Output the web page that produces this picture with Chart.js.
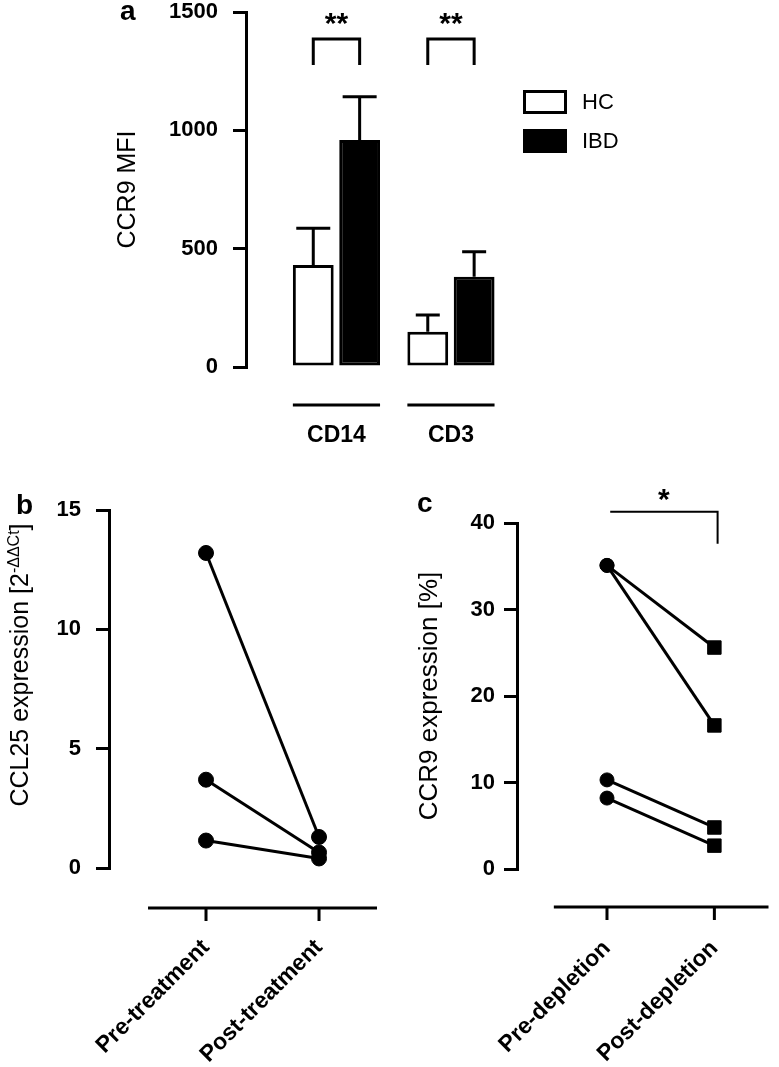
<!DOCTYPE html>
<html>
<head>
<meta charset="utf-8">
<script src="https://cdn.jsdelivr.net/npm/chart.js@4.4.1/dist/chart.umd.min.js"></script>
<style>
  html, body { margin:0; padding:0; background:#fff; }
  body { width:779px; height:1067px; position:relative; overflow:hidden;
         font-family:"Liberation Sans", Arial, Helvetica, sans-serif; color:#000; }
  canvas { position:absolute; }
  #cA { left:0; top:0; }
  #cB { left:0; top:480px; }
  #cC { left:390px; top:480px; }
  .tag { position:absolute; font-weight:bold; font-size:28px; line-height:1; }
  .legend { position:absolute; left:523px; top:90px; font-size:22px; }
  .legend .row { display:flex; align-items:center; height:24px; margin-bottom:15px; }
  .legend .box { width:44px; height:24px; box-sizing:border-box; border:3px solid #000; margin-right:15px; }
  .ytitle { position:absolute; font-size:25px; white-space:nowrap; line-height:1.2;
            transform:translate(-50%,-50%) rotate(-90deg); }
  .ytitle sup { font-size:16px; }
</style>
</head>
<body>
<canvas id="cA" width="779" height="470"></canvas>
<canvas id="cB" width="390" height="587"></canvas>
<canvas id="cC" width="389" height="587"></canvas>

<div class="tag" style="left:120px;top:-3px">a</div>
<div class="tag" style="left:16px;top:491px">b</div>
<div class="tag" style="left:417px;top:489px">c</div>

<div class="legend">
  <div class="row"><div class="box" style="background:#fff"></div>HC</div>
  <div class="row"><div class="box" style="background:#000"></div>IBD</div>
</div>

<div class="ytitle" style="left:19px;top:665px">CCL25 expression [2<sup>-ΔΔCt</sup>]</div>

<script>
// ---- panel a : CCR9 MFI ----
const groupLabels = ['CD14', 'CD3'];
const hcMean  = [431, 149];
const hcSem   = [155, 71];
const ibdMean = [959, 381];
const ibdSem  = [183, 106];
const sigA    = ['**', '**'];

// ---- panel b : CCL25 ----
const timeLabelsB = ['Pre-treatment', 'Post-treatment'];
const ccl25Pre  = [13.2, 3.7, 1.15];
const ccl25Post = [1.3, 0.65, 0.4];

// ---- panel c : CCR9 % ----
const timeLabelsC = ['Pre-depletion', 'Post-depletion'];
const ccr9Pre  = [35.1, 35.1, 10.3, 8.2];
const ccr9Post = [25.6, 16.6, 4.8, 2.7];
const sigC = ['*'];

Chart.defaults.font.family = '"Liberation Sans", Arial, Helvetica, sans-serif';
Chart.defaults.color = '#000';
Chart.defaults.animation = false;
Chart.defaults.plugins.legend.display = false;
Chart.defaults.plugins.tooltip.enabled = false;

function yAxis(max, step, width, pad, title) {
  return {
    min: 0, max: max,
    afterFit: (s) => { s.width = width; s.paddingTop = 0; s.paddingBottom = 0; },
    border: { display: true, width: 3, color: '#000' },
    grid: { drawOnChartArea: false, drawTicks: true, tickLength: 13, lineWidth: 3, color: '#000' },
    ticks: { stepSize: step, padding: pad, font: { size: 22, weight: 'bold', lineHeight: 1 },
             callback: (v) => String(v) },
    title: title || { display: false }
  };
}

function xAxis(labels, min, max, height, tickExtra) {
  return {
    type: 'linear', min: min, max: max, offset: false,
    afterFit: (s) => { s.height = height; s.paddingLeft = 0; s.paddingRight = 0; },
    afterBuildTicks: (s) => { s.ticks = labels.map((_, i) => ({ value: i + 1 })); },
    border: { display: false },
    grid: { display: false, drawTicks: false },
    ticks: Object.assign({ autoSkip: false, font: { size: 23, weight: 'bold' },
             callback: (v) => labels[v - 1] ?? '' }, tickExtra)
  };
}

// offset x axis (detached from y axis, prism style)
const prismAxis = {
  id: 'prismAxis',
  afterDraw(chart, args, o) {
    const { ctx, chartArea, scales: { x } } = chart;
    const y = chartArea.bottom + o.drop;
    ctx.save();
    ctx.strokeStyle = '#000'; ctx.lineWidth = 3;
    ctx.beginPath();
    ctx.moveTo(x.getPixelForValue(o.from), y);
    ctx.lineTo(chartArea.right, y);
    x.ticks.forEach(t => {
      const px = x.getPixelForValue(t.value);
      ctx.moveTo(px, y); ctx.lineTo(px, y + 13);
    });
    ctx.stroke();
    ctx.restore();
  }
};

// whiskers, brackets and group underlines for panel a
const panelAExtras = {
  id: 'panelAExtras',
  afterDatasetsDraw(chart, args, o) {
    const { ctx, chartArea, scales: { y } } = chart;
    const m0 = chart.getDatasetMeta(0), m1 = chart.getDatasetMeta(1);
    ctx.save();
    ctx.strokeStyle = '#000'; ctx.fillStyle = '#000'; ctx.lineWidth = 3;
    [m0, m1].forEach((meta, di) => {
      const ds = chart.data.datasets[di];
      meta.data.forEach((bar, i) => {
        const yt = y.getPixelForValue(ds.data[i].y + ds.sem[i]);
        const half = o.caps[i] / 2;
        ctx.beginPath();
        ctx.moveTo(bar.x, bar.y); ctx.lineTo(bar.x, yt);
        ctx.moveTo(bar.x - half, yt); ctx.lineTo(bar.x + half, yt);
        ctx.stroke();
      });
    });
    const yTop = y.getPixelForValue(o.bracketTop), yLeg = y.getPixelForValue(o.bracketLeg);
    ctx.font = 'bold 30px "Liberation Sans", Arial, sans-serif';
    ctx.textAlign = 'center'; ctx.textBaseline = 'alphabetic';
    m0.data.forEach((b0, i) => {
      const b1 = m1.data[i];
      ctx.beginPath();
      ctx.moveTo(b0.x, yLeg); ctx.lineTo(b0.x, yTop); ctx.lineTo(b1.x, yTop); ctx.lineTo(b1.x, yLeg);
      ctx.stroke();
      ctx.fillText(o.marks[i], (b0.x + b1.x) / 2, yTop - 6);
      const ul = chartArea.bottom + o.underlineDrop;
      ctx.beginPath();
      ctx.moveTo(b0.x - b0.width / 2, ul); ctx.lineTo(b1.x + b1.width / 2, ul);
      ctx.stroke();
    });
    ctx.restore();
  }
};

// bracket for panel c
const panelCExtras = {
  id: 'panelCExtras',
  afterDraw(chart, args, o) {
    const { ctx, scales: { x, y } } = chart;
    const x1 = x.getPixelForValue(o.from), x2 = x.getPixelForValue(o.to);
    const yTop = y.getPixelForValue(o.top), yLeg = y.getPixelForValue(o.leg);
    ctx.save();
    ctx.strokeStyle = '#000'; ctx.fillStyle = '#000'; ctx.lineWidth = 2;
    ctx.beginPath();
    ctx.moveTo(x1, yTop); ctx.lineTo(x2, yTop); ctx.lineTo(x2, yLeg);
    ctx.stroke();
    ctx.font = 'bold 30px "Liberation Sans", Arial, sans-serif';
    ctx.textAlign = 'center'; ctx.textBaseline = 'alphabetic';
    ctx.fillText(o.mark, (x1 + x2) / 2, yTop - 3);
    ctx.restore();
  }
};

// ---- chart a ----
new Chart(document.getElementById('cA'), {
  type: 'bar',
  data: {
    datasets: [
      { label: 'HC', data: groupLabels.map((_, i) => ({ x: i + 1, y: hcMean[i] })), sem: hcSem,
        backgroundColor: '#fff', borderColor: '#000', borderWidth: 3, borderSkipped: false,
        categoryPercentage: 0.81, barPercentage: 0.88 },
      { label: 'IBD', data: groupLabels.map((_, i) => ({ x: i + 1, y: ibdMean[i] })), sem: ibdSem,
        backgroundColor: '#000', borderColor: '#000', borderWidth: 3, borderSkipped: false,
        categoryPercentage: 0.81, barPercentage: 0.88 }
    ]
  },
  options: {
    responsive: false,
    events: [],
    layout: { padding: { top: 12, left: 0, right: 259, bottom: 0 } },
    scales: {
      x: xAxis(groupLabels, 0.21, 2.603, 103, { padding: 55 }),
      y: yAxis(1500, 500, 246, 15, {
        display: true, text: 'CCR9 MFI', font: { size: 25 }, padding: { top: 113, bottom: 0 }
      })
    },
    plugins: {
      panelAExtras: { caps: [34, 24], bracketTop: 1386, bracketLeg: 1276, marks: sigA, underlineDrop: 38 }
    }
  },
  plugins: [panelAExtras]
});

// ---- chart b ----
new Chart(document.getElementById('cB'), {
  type: 'line',
  data: {
    datasets: ccl25Pre.map((v, i) => ({
      data: [{ x: 1, y: v }, { x: 2, y: ccl25Post[i] }],
      borderColor: '#000', borderWidth: 3, backgroundColor: '#000',
      pointRadius: 7.5, pointBorderWidth: 1, pointStyle: 'circle'
    }))
  },
  options: {
    responsive: false,
    events: [],
    layout: { padding: { top: 30, left: 0, right: 13, bottom: 0 } },
    scales: {
      x: xAxis(timeLabelsB, 0.1416, 2.513, 199, { minRotation: 45, maxRotation: 45, padding: 66 }),
      y: yAxis(15, 5, 109, 15)
    },
    plugins: { prismAxis: { from: 0.487, drop: 40 } }
  },
  plugins: [prismAxis]
});

// ---- chart c ----
new Chart(document.getElementById('cC'), {
  type: 'line',
  data: {
    datasets: ccr9Pre.map((v, i) => ({
      data: [{ x: 1, y: v }, { x: 2, y: ccr9Post[i] }],
      borderColor: '#000', borderWidth: 3, backgroundColor: '#000',
      pointRadius: [7, 9.5], pointBorderWidth: 1, pointStyle: ['circle', 'rect']
    }))
  },
  options: {
    responsive: false,
    events: [],
    layout: { padding: { top: 43, left: 0, right: 2, bottom: 0 } },
    scales: {
      x: xAxis(timeLabelsC, 0.162, 2.504, 198, { minRotation: 45, maxRotation: 45, padding: 66 }),
      y: yAxis(40, 10, 127, 9, {
        display: true, text: 'CCR9 expression [%]', font: { size: 26 }, padding: { top: 24, bottom: 0 }
      })
    },
    plugins: {
      prismAxis: { from: 0.505, drop: 38 },
      panelCExtras: { from: 1.03, to: 2.03, top: 41.3, leg: 37.6, mark: sigC[0] }
    }
  },
  plugins: [prismAxis, panelCExtras]
});
</script>
</body>
</html>
